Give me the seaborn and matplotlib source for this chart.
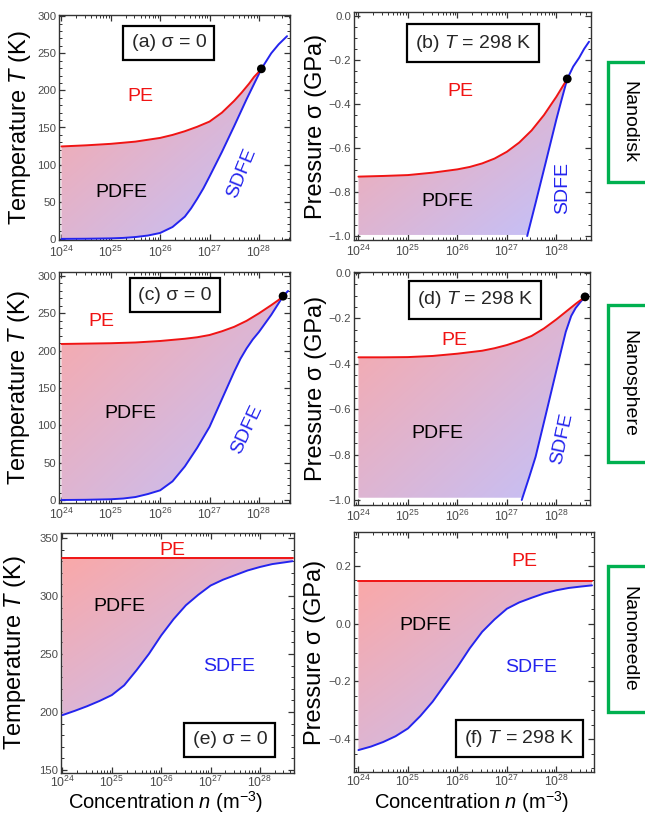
import numpy as np
import matplotlib
matplotlib.use("Agg")
import matplotlib.pyplot as plt
import seaborn as sns
from matplotlib.ticker import FuncFormatter, LogLocator, MultipleLocator
from matplotlib.patches import Rectangle, Polygon

# ---------------- data (log10 of concentration n, boundary values) ----------------
# (a) nanodisk, sigma = 0  (temperature, K)
a_pe_logn = [24.0, 24.5, 25.0, 25.5, 26.0, 26.25, 26.5, 26.75, 27.0, 27.25, 27.5, 27.65, 27.8, 27.9, 28.0, 28.05]
a_pe_val = [124.5, 126, 128, 131, 136, 140, 145, 151, 158, 170, 186, 197, 209, 218, 225, 229]
a_sd_logn = [24.0, 24.5, 25.0, 25.25, 25.5, 25.75, 26.0, 26.25, 26.5, 26.625, 26.75, 26.875, 27.0, 27.25,
             27.5, 27.75, 28.0, 28.05, 28.25, 28.4, 28.57]
a_sd_val = [0, 0.2, 0.7, 1.3, 2.5, 4.5, 8, 16, 30, 41, 54, 68, 84, 117, 152, 188, 222, 229, 250, 262, 273]
a_cp = (28.05, 229)

# (b) nanodisk, T = 298 K  (pressure, GPa)
b_pe_logn = [24.0, 24.5, 25.0, 25.5, 26.0, 26.25, 26.5, 26.75, 27.0, 27.25, 27.5, 27.75, 27.9, 28.0, 28.1, 28.22]
b_pe_val = [-0.730, -0.727, -0.723, -0.712, -0.697, -0.686, -0.670, -0.648, -0.617, -0.575, -0.520, -0.450,
            -0.400, -0.367, -0.330, -0.286]
b_sd_logn = [27.41, 27.58, 27.78, 28.0, 28.1, 28.22, 28.34, 28.46, 28.56, 28.66]
b_sd_val = [-1.0, -0.85, -0.67, -0.47, -0.385, -0.286, -0.23, -0.19, -0.15, -0.117]
b_cp = (28.22, -0.286)

# (c) nanosphere, sigma = 0
c_pe_logn = [24.0, 24.5, 25.0, 25.5, 26.0, 26.5, 26.75, 27.0, 27.25, 27.5, 27.75, 28.0, 28.25, 28.4, 28.49]
c_pe_val = [209, 209.5, 210, 211, 213, 216, 218, 221, 226, 232, 240, 250, 261, 268, 273]
c_sd_logn = [24.0, 24.5, 25.0, 25.25, 25.5, 25.75, 26.0, 26.25, 26.5, 26.75, 27.0, 27.25, 27.5, 27.625,
             27.75, 27.875, 28.0, 28.25, 28.49, 28.59]
c_sd_val = [0, 0.3, 1, 2, 4, 8, 13, 25, 45, 70, 98, 135, 172, 189, 203, 215, 225, 248, 273, 280]
c_cp = (28.49, 273)

# (d) nanosphere, T = 298 K
d_pe_logn = [24.0, 24.5, 25.0, 25.5, 26.0, 26.5, 26.75, 27.0, 27.25, 27.5, 27.75, 28.0, 28.2, 28.4, 28.58]
d_pe_val = [-0.372, -0.372, -0.371, -0.366, -0.356, -0.343, -0.332, -0.318, -0.300, -0.278, -0.245, -0.205,
            -0.170, -0.135, -0.106]
d_sd_logn = [27.30, 27.45, 27.58, 27.78, 28.0, 28.1, 28.19, 28.3, 28.39, 28.5, 28.58, 28.63]
d_sd_val = [-1.0, -0.90, -0.81, -0.63, -0.43, -0.34, -0.26, -0.19, -0.155, -0.125, -0.106, -0.096]
d_cp = (28.58, -0.106)

# (e) nanoneedle, sigma = 0
e_pe_logn = [24.0, 28.66]
e_pe_val = [333, 333]
e_sd_logn = [24.0, 24.25, 24.5, 24.75, 25.0, 25.25, 25.5, 25.75, 26.0, 26.25, 26.5, 26.75, 27.0, 27.25,
             27.5, 27.75, 28.0, 28.25, 28.5, 28.66]
e_sd_val = [197.3, 201, 205, 209.5, 214.6, 223, 236, 250, 266, 280, 292, 301, 309, 314, 318, 322, 325,
            327.5, 329, 330]

# (f) nanoneedle, T = 298 K
f_pe_logn = [24.0, 28.72]
f_pe_val = [0.147, 0.147]
f_sd_logn = [24.0, 24.25, 24.5, 24.75, 25.0, 25.25, 25.5, 25.75, 26.0, 26.25, 26.5, 26.75, 27.0, 27.25,
             27.5, 27.75, 28.0, 28.25, 28.5, 28.72]
f_sd_val = [-0.438, -0.426, -0.41, -0.39, -0.363, -0.32, -0.27, -0.21, -0.15, -0.085, -0.028, 0.015, 0.052,
            0.074, 0.09, 0.105, 0.116, 0.124, 0.129, 0.133]

x_tick_exps = [24, 25, 26, 27, 28]
t_ticks_ac = [0, 50, 100, 150, 200, 250, 300]
p_ticks_bd = [0.0, -0.2, -0.4, -0.6, -0.8, -1.0]
t_ticks_e = [150, 200, 250, 300, 350]
p_ticks_f = [-0.4, -0.2, 0.0, 0.2]
shape_names = ["Nanodisk", "Nanosphere", "Nanoneedle"]

# ---------------- style ----------------
sns.set_theme(style="ticks")
plt.rcParams["font.family"] = ["Liberation Sans", "DejaVu Sans"]
plt.rcParams["mathtext.fontset"] = "custom"
plt.rcParams["mathtext.rm"] = "Liberation Sans"
plt.rcParams["mathtext.it"] = "Liberation Sans:italic"
plt.rcParams["mathtext.default"] = "regular"

RED = "#f01414"
BLUE = "#2424ee"
LAB_FS = 17
XLAB_FS = 14.5
W, H = 645, 814
fig = plt.figure(figsize=(W / 100, H / 100), dpi=100)


def rect(L, R, T, B):
    return [L / W, (H - B) / H, (R - L) / W, (B - T) / H]


def gradient_fill(ax, poly_x, poly_y):
    poly = Polygon(np.column_stack([poly_x, poly_y]), closed=True,
                   transform=ax.transData, facecolor="none", edgecolor="none")
    ax.add_patch(poly)
    pts = ax.transAxes.inverted().transform(ax.transData.transform(np.column_stack([poly_x, poly_y])))
    x0, y0 = pts.min(axis=0)
    x1, y1 = pts.max(axis=0)
    nx, ny = 200, 200
    tx = np.linspace(0, 1, nx)[None, :]
    ty = np.linspace(0, 1, ny)[:, None]  # 0 at top
    t = np.clip((tx + ty) / 2.0, 0, 1)
    c0 = np.array([0.98, 0.66, 0.66])
    c1 = np.array([0.76, 0.76, 0.99])
    img = c0[None, None, :] * (1 - t[..., None]) + c1[None, None, :] * t[..., None]
    im = ax.imshow(img, extent=[x0, x1, y0, y1], transform=ax.transAxes,
                   aspect="auto", origin="upper", zorder=1, interpolation="bilinear")
    im.set_clip_path(poly)


def style_axes(ax, xlim, ylim, yticks, yfmt, ylab, ylab_x, minor_y, xpad=1.5):
    ax.set_xscale("log")
    ax.set_xlim(10 ** xlim[0], 10 ** xlim[1])
    ax.set_ylim(*ylim)
    ax.set_xticks([10.0 ** e for e in x_tick_exps])
    ax.xaxis.set_minor_locator(LogLocator(base=10, subs=np.arange(2, 10), numticks=50))
    ax.xaxis.set_major_formatter(FuncFormatter(lambda v, p: r"$\mathregular{10^{%d}}$" % round(np.log10(v))))
    ax.set_yticks(yticks)
    ax.yaxis.set_major_formatter(FuncFormatter(lambda v, p: (yfmt % v).replace("-", "\u2212")))
    ax.yaxis.set_minor_locator(MultipleLocator(minor_y))
    ax.tick_params(which="both", direction="in", top=True, right=True, color="#333333",
                   labelcolor="#4a4a4a", pad=2)
    ax.tick_params(axis="y", labelsize=8.2)
    ax.tick_params(axis="x", labelsize=8.8, pad=xpad)
    ax.tick_params(which="major", length=4, width=0.9)
    ax.tick_params(which="minor", length=2, width=0.7)
    for s in ax.spines.values():
        s.set_color("#333333")
        s.set_linewidth(1.0)
    ax.set_ylabel(ylab, fontsize=LAB_FS, color="black")
    ax.yaxis.set_label_coords(ylab_x, 0.5)
    ax.set_xlabel("")
    ax.grid(False)


def lines(ax, pe_logn, pe_val, sd_logn, sd_val):
    sns.lineplot(x=10.0 ** np.array(sd_logn), y=sd_val, ax=ax, color=BLUE, lw=1.4, zorder=3, estimator=None)
    sns.lineplot(x=10.0 ** np.array(pe_logn), y=pe_val, ax=ax, color=RED, lw=1.4, zorder=4, estimator=None)


def tag(ax, s, fx, fy):
    ax.text(fx, fy, s, transform=ax.transAxes, ha="center", va="center", fontsize=14, zorder=6,
            bbox=dict(boxstyle="square,pad=0.42", facecolor="white", edgecolor="black", linewidth=1.6))


def region_labels(ax, pe, pdfe, sdfe, sdfe_rot):
    ax.text(10 ** pe[0], pe[1], "PE", color=RED, fontsize=14, ha="center", va="center", zorder=6)
    ax.text(10 ** pdfe[0], pdfe[1], "PDFE", color="black", fontsize=14, ha="center", va="center", zorder=6)
    ax.text(10 ** sdfe[0], sdfe[1], "SDFE", color=BLUE, fontsize=14, ha="center", va="center",
            rotation=sdfe_rot, rotation_mode="anchor", zorder=6)


def dot(ax, cp):
    sns.scatterplot(x=[10.0 ** cp[0]], y=[cp[1]], ax=ax, color="black", s=40, zorder=7, edgecolor="none")


def set_xlabel_baseline(ax, fx, fy):
    ax.set_xlabel(N_LABEL, fontsize=XLAB_FS, color="black")
    ax.xaxis.label.set_verticalalignment("baseline")
    ax.xaxis.set_label_coords(fx, fy)


T_LABEL = r"Temperature $\mathit{T}$ (K)"
P_LABEL = "Pressure \u03c3 (GPa)"
N_LABEL = r"Concentration $\mathit{n}$ (m$^{\mathregular{-3}}$)"


def polygon_pts(pe_logn, pe_val, sd_logn, sd_val, cp_x, floor=None):
    sd_x = [x for x in sd_logn if x <= cp_x]
    sd_y = list(sd_val[:len(sd_x)])
    px = list(10.0 ** np.array(pe_logn)) + list(10.0 ** np.array(sd_x[::-1]))
    py = list(pe_val) + sd_y[::-1]
    if floor is not None:
        px = px + [10.0 ** pe_logn[0]]
        py = [max(v, floor) for v in py] + [floor]
    return px, py


# ---------------- (a) ----------------
ax = fig.add_axes(rect(59, 290, 15, 240))
style_axes(ax, (23.95, 28.63), (-1.5, 301.5), t_ticks_ac, "%d", T_LABEL, -0.113, 10, xpad=3.5)
gradient_fill(ax, *polygon_pts(a_pe_logn, a_pe_val, a_sd_logn, a_sd_val, a_cp[0]))
lines(ax, a_pe_logn, a_pe_val, a_sd_logn, a_sd_val)
dot(ax, a_cp)
tag(ax, "(a) \u03c3 = 0", 0.476, 0.876)
region_labels(ax, (25.59, 191.7), (25.22, 62.7), (27.65, 88.7), 68)

# ---------------- (b) ----------------
ax = fig.add_axes(rect(354, 591, 12, 240))
style_axes(ax, (23.91, 28.70), (-1.018, 0.018), p_ticks_bd, "%.1f", P_LABEL, -0.114, 0.05, xpad=3)
gradient_fill(ax, *polygon_pts(b_pe_logn, b_pe_val, b_sd_logn, b_sd_val, b_cp[0], floor=-0.995))
lines(ax, b_pe_logn, b_pe_val, b_sd_logn, b_sd_val)
dot(ax, b_cp)
tag(ax, r"(b) $\mathit{T}$ = 298 K", 0.502, 0.864)
region_labels(ax, (26.07, -0.344), (25.8, -0.844), (28.12, -0.783), 90)

# ---------------- (c) ----------------
ax = fig.add_axes(rect(59, 290, 272, 503))
style_axes(ax, (23.95, 28.63), (-4.0, 305.4), t_ticks_ac, "%d", T_LABEL, -0.117, 10, xpad=2.5)
gradient_fill(ax, *polygon_pts(c_pe_logn, c_pe_val, c_sd_logn, c_sd_val, c_cp[0]))
lines(ax, c_pe_logn, c_pe_val, c_sd_logn, c_sd_val)
dot(ax, c_cp)
tag(ax, "(c) \u03c3 = 0", 0.502, 0.90)
region_labels(ax, (24.81, 238.8), (25.39, 116), (27.75, 94), 65)

# ---------------- (d) ----------------
ax = fig.add_axes(rect(354, 590, 272, 505))
style_axes(ax, (23.91, 28.68), (-1.022, 0.0035), p_ticks_bd, "%.1f", P_LABEL, -0.114, 0.05, xpad=2.5)
gradient_fill(ax, *polygon_pts(d_pe_logn, d_pe_val, d_sd_logn, d_sd_val, d_cp[0], floor=-0.99))
lines(ax, d_pe_logn, d_pe_val, d_sd_logn, d_sd_val)
dot(ax, d_cp)
tag(ax, r"(d) $\mathit{T}$ = 298 K", 0.513, 0.88)
region_labels(ax, (25.93, -0.298), (25.6, -0.709), (28.12, -0.728), 78)

# ---------------- (e) ----------------
ax = fig.add_axes(rect(61, 294, 533, 773))
px = list(10.0 ** np.array(e_pe_logn)) + list(10.0 ** np.array(e_sd_logn[::-1]))
py = list(e_pe_val) + list(e_sd_val[::-1])
style_axes(ax, (23.97, 28.69), (147.4, 354.3), t_ticks_e, "%d", T_LABEL, -0.14, 10, xpad=1)
gradient_fill(ax, px, py)
lines(ax, e_pe_logn, e_pe_val, e_sd_logn, e_sd_val)
tag(ax, "(e) \u03c3 = 0", 0.725, 0.1375)
region_labels(ax, (26.23, 339.4), (25.15, 290.6), (27.38, 239), 0)
set_xlabel_baseline(ax, 0.45, -(808.5 - 773) / 240)

# ---------------- (f) ----------------
ax = fig.add_axes(rect(354, 594, 532, 772))
px = list(10.0 ** np.array(f_pe_logn)) + list(10.0 ** np.array(f_sd_logn[::-1]))
py = list(f_pe_val) + list(f_sd_val[::-1])
style_axes(ax, (23.91, 28.76), (-0.514, 0.318), p_ticks_f, "%.1f", P_LABEL, -0.117, 0.05, xpad=1)
gradient_fill(ax, px, py)
lines(ax, f_pe_logn, f_pe_val, f_sd_logn, f_sd_val)
tag(ax, r"(f) $\mathit{T}$ = 298 K", 0.69, 0.14)
region_labels(ax, (27.35, 0.214), (25.36, -0.005), (27.48, -0.153), 0)
set_xlabel_baseline(ax, 0.49, -(808.5 - 772) / 240)

# ---------------- side boxes ----------------
boxes = [(62, 182), (305, 462), (566, 712)]
for name, (t, b) in zip(shape_names, boxes):
    r = Rectangle((608 / W, (H - b) / H), 60 / W, (b - t) / H, transform=fig.transFigure,
                  facecolor="white", edgecolor="#00b050", linewidth=2.4, clip_on=False)
    fig.patches.append(r)
    fig.text(629 / W, (H - (t + b) / 2) / H, name, rotation=-90, ha="center", va="center",
             fontsize=14, color="black")

fig.savefig("out.png", dpi=100)
